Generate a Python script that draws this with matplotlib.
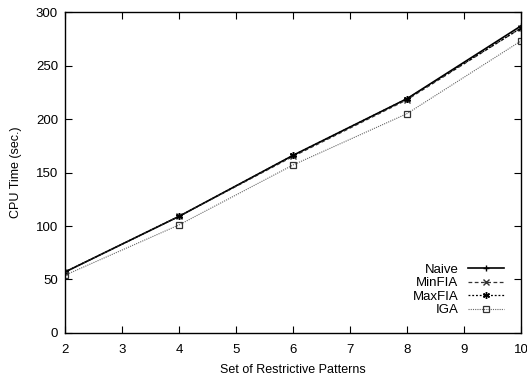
import matplotlib
matplotlib.use('Agg')
import matplotlib.pyplot as plt

plt.rcParams['font.family'] = ['Liberation Sans', 'DejaVu Sans']
plt.rcParams['font.size'] = 9.5

patterns = [2, 4, 6, 8, 10]
naive = [57, 109, 166, 219, 287]
minfia = [57, 109, 165, 218, 285]
maxfia = [57, 109, 166, 219, 285]
iga = [54, 101, 157, 205, 273]

fig = plt.figure(figsize=(5.27, 3.76), dpi=100)
ax = fig.add_axes([0.1233, 0.1144, 0.8653, 0.8536])

ax.plot(patterns, naive, color='black', lw=1.2, marker='+', ms=5, mew=1, label='Naive')
ax.plot(patterns, minfia, color='#333333', lw=0.9, ls=(0, (3, 2)), marker='x', ms=4, mew=1, label='MinFIA')
ax.plot(patterns, maxfia, color='black', lw=0.9, ls=(0, (1.5, 1.5)), marker=(6, 2, 0), ms=5, mew=1, label='MaxFIA')
ax.plot(patterns, iga, color='#666666', lw=0.8, ls=(0, (1, 1)), marker='s', ms=4, mfc='none', mec='#333333', mew=0.9, label='IGA')

ax.set_xlim(2, 10)
ax.set_ylim(0, 300)
ax.set_xticks(range(2, 11))
ax.set_yticks(range(0, 301, 50))
ax.tick_params(direction='in', top=True, right=True, length=5, width=0.8, pad=5)
ax.tick_params(axis='x', pad=8)
for s in ax.spines.values():
    s.set_linewidth(1)

ax.set_xlabel('Set of Restrictive Patterns', fontsize=9, labelpad=6)
ax.set_ylabel('CPU Time (sec.)', fontsize=9, labelpad=10)

ax.legend(loc='lower right', frameon=False, markerfirst=False, handlelength=2.8,
          labelspacing=0.1, handletextpad=0.7, borderaxespad=0.85, fontsize=9.5)

fig.savefig('out.png', dpi=100)
